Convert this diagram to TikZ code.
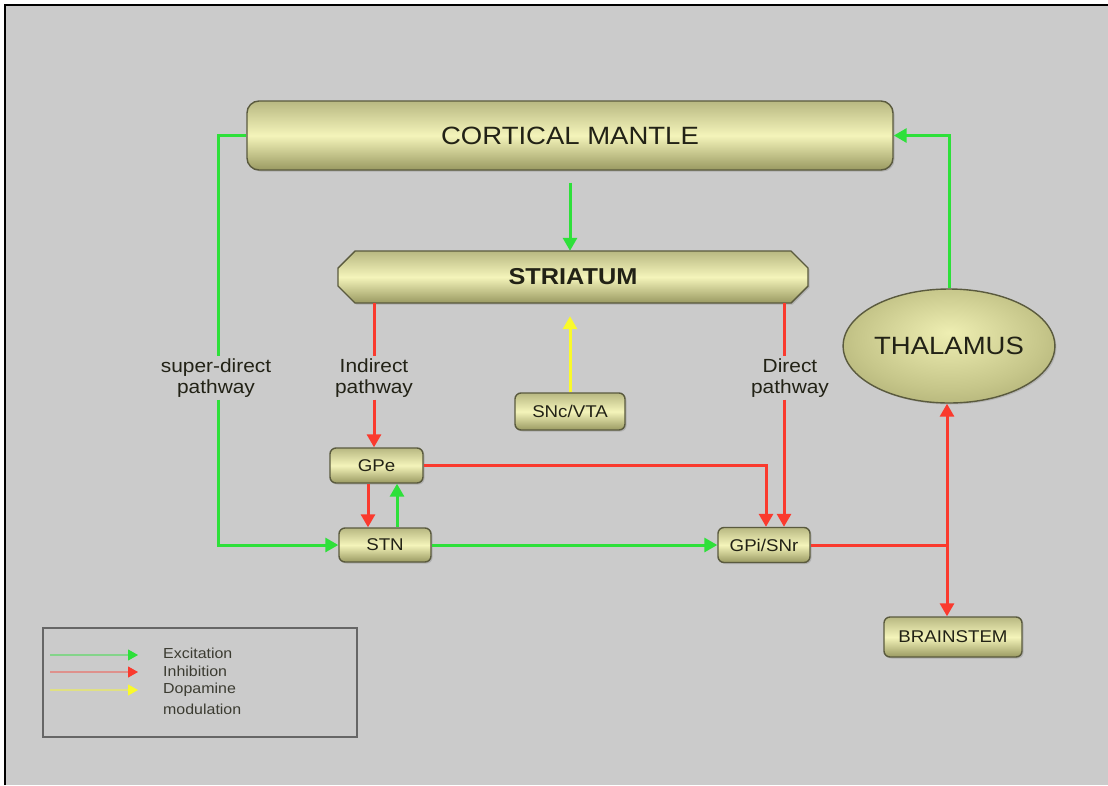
\documentclass[tikz,border=0pt]{standalone}
\usepackage{fontspec}
\setmainfont{Liberation Sans}
\newfontfamily\lf[FakeStretch=1.1]{Liberation Sans}
\usetikzlibrary{arrows.meta,shadows,shapes.geometric}
\definecolor{bgc}{HTML}{CBCBCB}
\definecolor{exc}{HTML}{2EE03A}
\definecolor{inh}{HTML}{FA3A2E}
\definecolor{dop}{HTML}{FAFA2A}
\definecolor{boxlight}{HTML}{F4F4BA}
\definecolor{boxtop}{HTML}{B8B882}
\definecolor{boxdark}{HTML}{9A9A62}
\definecolor{boxedge}{HTML}{5A5A3E}
\definecolor{txt}{HTML}{222216}
\definecolor{thin}{HTML}{EEEEB2}
\definecolor{thmid}{HTML}{C6C68A}
\definecolor{thout}{HTML}{96965E}
\pgfdeclareradialshading{thalshade}{\pgfpoint{0bp}{6bp}}{color(0bp)=(thin); color(22bp)=(thmid); color(44bp)=(thout); color(50bp)=(thout)}
\begin{document}
\begin{tikzpicture}[x=1pt,y=-1pt,
  boxshade/.style={top color=boxtop, bottom color=boxdark, middle color=boxlight},
  box/.style={draw=boxedge, line width=1.4pt, rounded corners=6pt, boxshade,
    text=txt, font=\lf\fontsize{17}{17}\selectfont, inner sep=0pt,
    drop shadow={opacity=0.35, shadow xshift=1.5pt, shadow yshift=-1.5pt}},
  lab/.style={fill=bgc, text=txt, align=center, inner sep=2pt,
    font=\lf\fontsize{19}{21}\selectfont},
  conn/.style={line width=3pt},
  tip/.style={-{Triangle[length=13pt,width=14pt]}},
  ex/.style={conn, exc},
  ih/.style={conn, inh},
  dp/.style={conn, dop},
  legtxt/.style={anchor=west, text=txt!85!bgc, inner sep=0pt, font=\lf\fontsize{14.5}{14.5}\selectfont}
]
\useasboundingbox (0,0) rectangle (1108,785);
\fill[white] (0,0) rectangle (1108,785);
\fill[bgc] (5,5) rectangle (1108,785);
\draw[black, line width=2pt] (5,785) -- (5,5) -- (1108,5);

% main nodes
\node[box, minimum width=646pt, minimum height=69pt, rounded corners=12pt,
  font=\lf\fontsize{25}{25}\selectfont] (ctx) at (570,135.5) {CORTICAL MANTLE};

% striatum (chamfered shape)
\path[boxshade,
  drop shadow={opacity=0.35, shadow xshift=1.5pt, shadow yshift=-1.5pt}]
  (355,251) -- (791,251) -- (808,268) -- (808,286) -- (791,303) -- (355,303)
  -- (338,286) -- (338,268) -- cycle;
\draw[boxedge, line width=1.4pt]
  (355,251) -- (791,251) -- (808,268) -- (808,286) -- (791,303) -- (355,303)
  -- (338,286) -- (338,268) -- cycle;
\node[minimum width=470pt, minimum height=52pt, inner sep=0pt, text=txt,
  font=\lf\bfseries\fontsize{23}{23}\selectfont] (str) at (573,277) {STRIATUM};

\node[ellipse, draw=boxedge, line width=1.4pt, minimum width=174pt, minimum height=114pt,
  shading=thalshade, text=txt, inner sep=0pt,
  font=\lf\fontsize{25}{25}\selectfont,
  drop shadow={opacity=0.3, shadow xshift=1.5pt, shadow yshift=-1.5pt}] (thal) at (949,346) {THALAMUS};

\node[box, minimum width=110pt, minimum height=37pt] (snc) at (570,411.5) {SNc/VTA};
\node[box, minimum width=93pt, minimum height=35pt] (gpe) at (376.5,465.5) {GPe};
\node[box, minimum width=92pt, minimum height=34pt] (stn) at (385,545) {STN};
\node[box, minimum width=92pt, minimum height=35pt] (gpi) at (764,545) {GPi/SNr};
\node[box, minimum width=138pt, minimum height=40pt] (bs) at (953,637) {BRAINSTEM};

% labels
\node[lab] (sdl) at (216,378) {super-direct\\pathway};
\node[lab] (indl) at (374,378) {Indirect\\pathway};
\node[lab] (dirl) at (790,378) {Direct\\pathway};

% connectors
\draw[ex, tip] ([yshift=-12pt]ctx.south) -- (ctx.south |- str.north);
\draw[ex] (ctx.west) -| (218,0 |- sdl.north);
\draw[ex, tip] (218,0 |- sdl.south) |- (stn.west);
\draw[ex, tip] (thal.north) |- (ctx.east);
\draw[dp, tip] (snc.north) -- ([yshift=-13pt]snc.north |- str.south);

\draw[ih] (374,0 |- str.south) -- (374,0 |- indl.north);
\draw[ih, tip] (374,0 |- indl.south) -- (374,0 |- gpe.north);
\draw[ih] (784,0 |- str.south) -- (784,0 |- dirl.north);
\draw[ih, tip] (784,0 |- dirl.south) -- ([xshift=20pt]gpi.north);

\draw[ih, tip] ([xshift=-8.5pt]gpe.south) -- ([xshift=-8.5pt]gpe.south |- stn.north);
\draw[ex, tip] ([xshift=12pt]stn.north) -- ([xshift=12pt]stn.north |- gpe.south);
\draw[ih, tip] (gpe.east) -| ([xshift=2pt]gpi.north);
\draw[ex, tip] (stn.east) -- (gpi.west);

\coordinate (j) at (947,545);
\draw[ih] (gpi.east |- j) -- (j);
\draw[ih, tip] (j) -- (j |- thal.south);
\draw[ih, tip] (j) -- (j |- bs.north);

% legend
\draw[draw=black!60, line width=1.5pt] (43,628) rectangle (357,737);
\coordinate (l1a) at (50,655); \coordinate (l1b) at (138,655);
\coordinate (l2a) at (50,672); \coordinate (l2b) at (138,672);
\coordinate (l3a) at (50,690); \coordinate (l3b) at (138,690);
\draw[line width=2pt, exc!45!bgc] (l1a) -- ([xshift=-8pt]l1b);
\draw[line width=2pt, inh!40!bgc] (l2a) -- ([xshift=-8pt]l2b);
\draw[line width=2pt, dop!45!bgc] (l3a) -- ([xshift=-8pt]l3b);
\draw[line width=1pt, exc, -{Triangle[length=10pt,width=11pt]}] ([xshift=-10pt]l1b) -- (l1b);
\draw[line width=1pt, inh, -{Triangle[length=10pt,width=11pt]}] ([xshift=-10pt]l2b) -- (l2b);
\draw[line width=1pt, dop, -{Triangle[length=10pt,width=11pt]}] ([xshift=-10pt]l3b) -- (l3b);
\node[legtxt] (t1) at (163,653) {Excitation};
\node[legtxt] (t2) at (163,671) {Inhibition};
\node[legtxt] (t3) at (163,690) {Dopamine};
\node[legtxt] (t4) at (163,709) {modulation};
\end{tikzpicture}
\end{document}
